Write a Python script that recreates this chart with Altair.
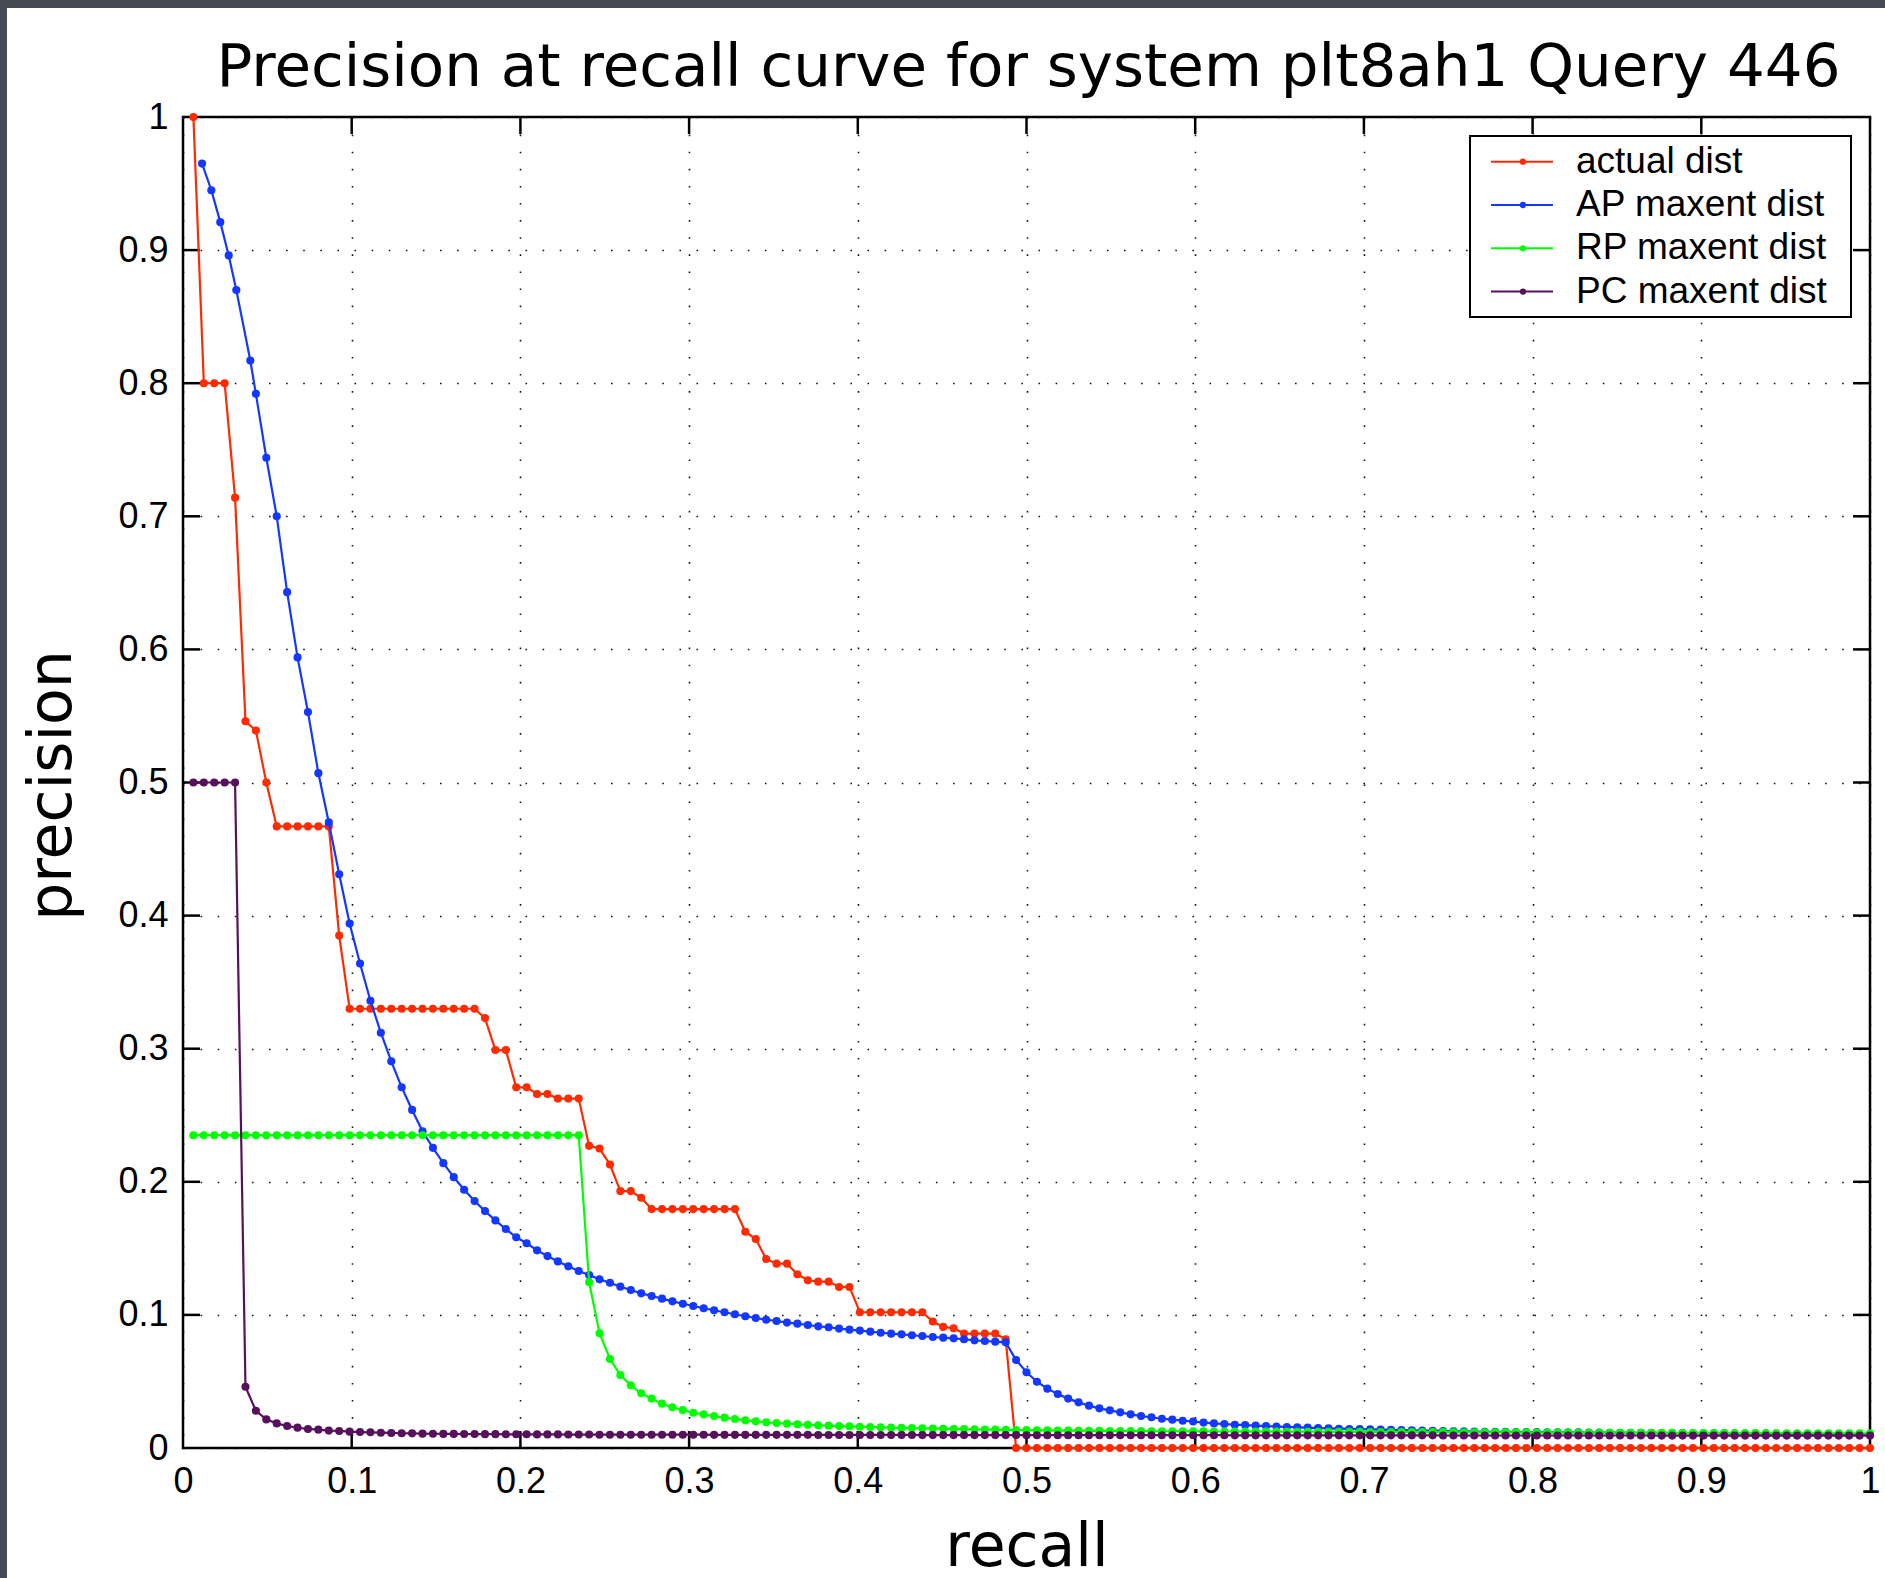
import altair as alt
import pandas as pd

# Interpolated precision at the recall levels k / RELEVANT, k = 1..RELEVANT
RELEVANT = 162

TITLE = "Precision at recall curve for system plt8ah1 Query 446"
SERIES = ["actual dist", "AP maxent dist", "RP maxent dist", "PC maxent dist"]
COLORS = ["#ff2a00", "#1438ff", "#00ff00", "#57105b"]

ACTUAL = (
    [1.0, 0.8, 0.8, 0.8, 0.714, 0.546, 0.539, 0.5]
    + [0.467] * 6
    + [0.385]
    + [0.33] * 13
    + [0.323, 0.299, 0.299, 0.271, 0.271, 0.266, 0.266, 0.2625, 0.2625, 0.2625,
       0.227, 0.225, 0.213, 0.193, 0.193, 0.188]
    + [0.1795] * 9
    + [0.1625, 0.157, 0.142, 0.1385, 0.1385, 0.1305, 0.126, 0.125, 0.125, 0.121, 0.121]
    + [0.102] * 7
    + [0.095, 0.091, 0.090, 0.086, 0.086, 0.086, 0.086, 0.0817]
    + [0.0] * 83
)

# AP maxent: the first six points sit at their own recall values
AP_RECALL_HEAD = [0.0113, 0.0168, 0.0221, 0.0271, 0.0316, 0.0399]
AP = [
    0.965, 0.945, 0.921, 0.896, 0.870, 0.817,
    0.792, 0.744, 0.700, 0.643, 0.594, 0.553, 0.507, 0.470, 0.431, 0.394,
    0.364, 0.336, 0.312, 0.2905, 0.271, 0.254, 0.238, 0.2255, 0.214, 0.2035,
    0.194, 0.1855, 0.178, 0.171, 0.1645, 0.1583, 0.1538, 0.1485, 0.1442, 0.1402,
    0.1365, 0.133, 0.130, 0.1267, 0.1242, 0.1212, 0.1187, 0.1162, 0.1142, 0.1122,
    0.1102, 0.1084, 0.1067, 0.105, 0.1035, 0.102, 0.1005, 0.099, 0.0977, 0.0964,
    0.0954, 0.0942, 0.0934, 0.0924, 0.0914, 0.0907, 0.0897, 0.0889, 0.0882, 0.0874,
    0.0866, 0.0859, 0.0854, 0.0847, 0.0841, 0.0834, 0.0829, 0.0824, 0.0817, 0.0809,
    0.0804, 0.0799, 0.0794, 0.0661, 0.0569, 0.0498, 0.0446, 0.0406, 0.0371, 0.0343,
    0.0318, 0.0298, 0.0283, 0.0268, 0.0253, 0.0240, 0.0231, 0.0220, 0.0213, 0.0205,
    0.0199, 0.0191, 0.0185, 0.0180, 0.0175, 0.0172, 0.0168, 0.0165, 0.0161, 0.0158,
    0.0155, 0.0153, 0.0150, 0.0148, 0.0145, 0.0143, 0.0142, 0.0140, 0.0138, 0.0136,
    0.0135, 0.0133, 0.0131, 0.0130, 0.0128, 0.0126, 0.0125, 0.0123, 0.0122, 0.0121,
    0.0121, 0.0120, 0.0119, 0.0119, 0.0118, 0.0118, 0.0117, 0.0117, 0.0116, 0.0116,
    0.0115, 0.0115, 0.0114, 0.0114, 0.0113, 0.0113, 0.0112, 0.0112, 0.0111, 0.0111,
    0.0110, 0.0110, 0.0109, 0.0109, 0.0108, 0.0108, 0.0107, 0.0107, 0.0106, 0.0106,
    0.0105, 0.0105, 0.0104, 0.0104, 0.0103, 0.0103,
]

RP = (
    [0.235] * 38
    + [0.1245, 0.0862, 0.0669, 0.0548, 0.0471, 0.0411, 0.0371, 0.0333, 0.0306, 0.0285,
       0.0265, 0.0253, 0.0240, 0.0228, 0.0218, 0.0208, 0.0201, 0.0193, 0.0188, 0.0183,
       0.0178, 0.0175, 0.0170, 0.0168, 0.0165, 0.0163, 0.0160, 0.0158, 0.0155, 0.0153,
       0.0151, 0.0150, 0.0148, 0.0146, 0.0145, 0.0143, 0.0142, 0.0140, 0.0139, 0.0138,
       0.0137, 0.0135, 0.0134, 0.0133, 0.0132, 0.0131, 0.0131, 0.0130, 0.0129, 0.0129,
       0.0128, 0.0128, 0.0127, 0.0127, 0.0126, 0.0126, 0.0126, 0.0125, 0.0125, 0.0125,
       0.0124, 0.0124, 0.0124, 0.0123, 0.0123, 0.0123, 0.0123, 0.0122, 0.0122, 0.0122,
       0.0122, 0.0121, 0.0121, 0.0121, 0.0121, 0.0120, 0.0120, 0.0120, 0.0120, 0.0119,
       0.0119, 0.0119, 0.0119, 0.0118, 0.0118, 0.0118, 0.0118, 0.0117, 0.0117, 0.0117,
       0.0117, 0.0116, 0.0116, 0.0116, 0.0116, 0.0115, 0.0115, 0.0115, 0.0115, 0.0115,
       0.0114, 0.0114, 0.0114, 0.0114, 0.0114, 0.0113, 0.0113, 0.0113, 0.0113, 0.0113,
       0.0112, 0.0112, 0.0112, 0.0112, 0.0112, 0.0111, 0.0111, 0.0111, 0.0111, 0.0111,
       0.0110, 0.0110, 0.0110, 0.0110]
)

PC = (
    [0.5] * 5
    + [0.046, 0.028, 0.0215, 0.0185, 0.0165, 0.0153, 0.0143, 0.0138, 0.0131, 0.0128,
       0.0123, 0.0120, 0.0118, 0.0115, 0.0113, 0.0111, 0.0110, 0.0108,
       0.0107, 0.0106, 0.0106, 0.0105, 0.0105, 0.0104, 0.0104, 0.0103, 0.0103, 0.0103,
       0.0102, 0.0102, 0.0102, 0.0101, 0.0101, 0.0101, 0.0100]
    + [0.0100] * 10 + [0.0099] * 10 + [0.0098] * 10 + [0.0097] * 10
    + [0.0096] * 20 + [0.0095] * 20 + [0.0094] * 21 + [0.0093] * 21
)

TICK_LABELS = ["0", "0.1", "0.2", "0.3", "0.4", "0.5", "0.6", "0.7", "0.8", "0.9", "1"]
TICKS = [float(t) for t in TICK_LABELS]
INNER_TICKS = TICKS[1:-1]

GRID = [k / RELEVANT for k in range(1, RELEVANT + 1)]
AP_RECALL = AP_RECALL_HEAD + GRID[len(AP_RECALL_HEAD):]

rows = []
for name, xs, ys in [
    (SERIES[0], GRID, ACTUAL),
    (SERIES[1], AP_RECALL, AP),
    (SERIES[2], GRID, RP),
    (SERIES[3], GRID, PC),
]:
    assert len(xs) == len(ys), name
    for i, (x, y) in enumerate(zip(xs, ys)):
        rows.append({"series": name, "idx": i, "recall": x, "precision": y})
df = pd.DataFrame(rows)

W, H = 1687, 1331
TICK_LEN = 17
SANS = "Liberation Sans"
WIDE = "DejaVu Sans"
BACKDROP = "#474b55"

xscale = alt.Scale(domain=[0, 1], nice=False, zero=False)
yscale = alt.Scale(domain=[0, 1], nice=False, zero=False)

grid_style = dict(
    grid=True, gridColor="#111111", gridWidth=1.6, gridDash=[1.6, 15.5], gridOpacity=1,
    domain=False, ticks=False, tickSize=0, labelColor="black", labelFont=SANS,
    labelFontSize=36, labelOverlap=False, labelFlush=False, values=TICKS,
    format=".1~f", titleFont=WIDE, titleFontSize=60, titleFontWeight="normal",
    titleColor="black", titleBaseline="alphabetic", titleAlign="center",
)
xaxis = alt.Axis(title="recall", labelPadding=16, titleX=W / 2, titleY=117, **grid_style)
yaxis = alt.Axis(title="precision", labelPadding=15, titleX=-113, titleY=668,
                 titleAngle=270, **grid_style)

X = alt.X("recall:Q", scale=xscale, axis=xaxis)
Y = alt.Y("precision:Q", scale=yscale, axis=yaxis)

one = pd.DataFrame({"n": [0]})

# dark backdrop strips along the top and left edges of the page
backdrop = [
    alt.Chart(one).mark_rect(color=BACKDROP).encode(
        x=alt.value(-183), x2=alt.value(W + 15), y=alt.value(-117), y2=alt.value(-109)),
    alt.Chart(one).mark_rect(color=BACKDROP).encode(
        x=alt.value(-183), x2=alt.value(-176), y=alt.value(-117), y2=alt.value(H + 130)),
]

# chart heading, centred over the plot area
heading = alt.Chart(one).mark_text(
    font=WIDE, fontSize=59.5, color="black", align="center", baseline="alphabetic"
).encode(x=alt.value(W / 2 + 2), y=alt.value(-31), text=alt.value(TITLE))

# inward tick marks on all four sides
ticks_df = pd.DataFrame({"recall": INNER_TICKS, "precision": INNER_TICKS})
tick_mark = dict(color="black", strokeWidth=2.5)
ticks = [
    alt.Chart(ticks_df).mark_rule(**tick_mark).encode(x=X, y=alt.value(H), y2=alt.value(H - TICK_LEN)),
    alt.Chart(ticks_df).mark_rule(**tick_mark).encode(x=X, y=alt.value(0), y2=alt.value(TICK_LEN)),
    alt.Chart(ticks_df).mark_rule(**tick_mark).encode(y=Y, x=alt.value(0), x2=alt.value(TICK_LEN)),
    alt.Chart(ticks_df).mark_rule(**tick_mark).encode(y=Y, x=alt.value(W), x2=alt.value(W - TICK_LEN)),
]

curves = []
for name, color in zip(SERIES, COLORS):
    curves.append(
        alt.Chart(df)
        .transform_filter(alt.datum.series == name)
        .mark_line(color=color, strokeWidth=2.2,
                   point=alt.OverlayMarkDef(filled=True, size=66, color=color))
        .encode(x=X, y=Y, order="idx:Q")
    )

# legend box in the upper right corner of the plot
LEG_X0, LEG_X1, LEG_Y0, LEG_Y1 = 1287, 1668, 19, 200
legend = [
    alt.Chart(one).mark_rect(fill="white", stroke="black", strokeWidth=2).encode(
        x=alt.value(LEG_X0), x2=alt.value(LEG_X1), y=alt.value(LEG_Y0), y2=alt.value(LEG_Y1))
]
for i, (name, color) in enumerate(zip(SERIES, COLORS)):
    ry = 44.7 + 43.3 * i
    legend += [
        alt.Chart(one).mark_rule(color=color, strokeWidth=2).encode(
            x=alt.value(1308), x2=alt.value(1370), y=alt.value(ry)),
        alt.Chart(one).mark_point(filled=True, color=color, size=40, opacity=1).encode(
            x=alt.value(1340), y=alt.value(ry)),
        alt.Chart(one).mark_text(align="left", baseline="middle", font=SANS,
                                 fontSize=37, color="black").encode(
            x=alt.value(1393), y=alt.value(ry), text=alt.value(name)),
    ]

chart = (
    alt.layer(*backdrop, heading, *ticks, *curves, *legend)
    .properties(
        width=W,
        height=H,
        autosize=alt.AutoSizeParams(type="none"),
        padding={"left": 183, "top": 117, "right": 15, "bottom": 130},
    )
    .configure(background="white")
    .configure_view(stroke="black", strokeWidth=2.5)
)

chart.save("out.html", embed_options={"renderer": "svg", "actions": False})
